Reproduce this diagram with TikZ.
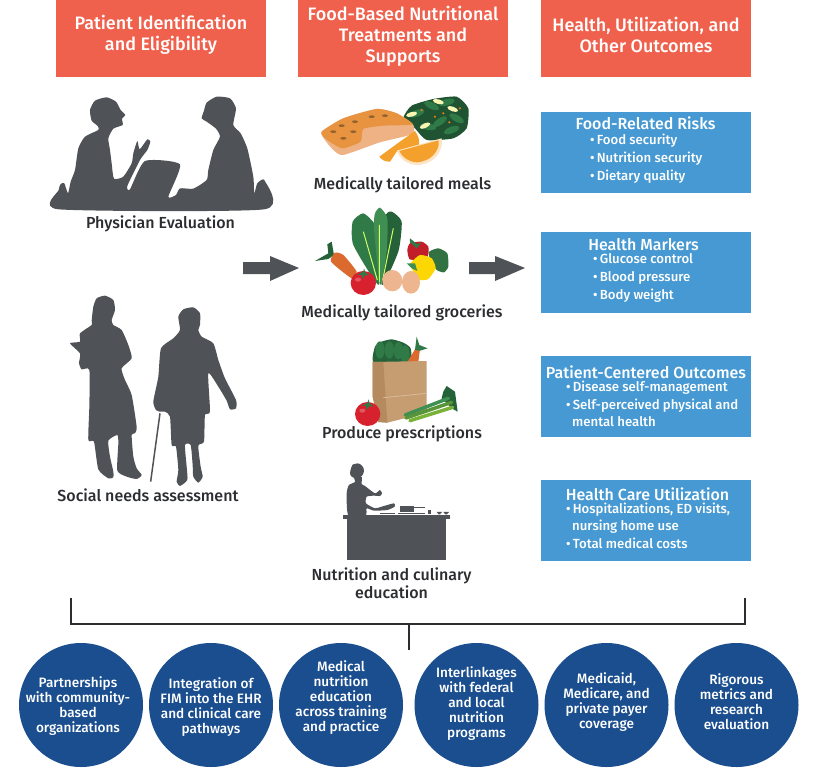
\documentclass[tikz,border=0pt]{standalone}
\usepackage{fontspec}
\setmainfont{Fira Sans}[BoldFont={Fira Sans Medium}]
\definecolor{hdrred}{HTML}{F0614D}
\definecolor{boxblue}{HTML}{4699D2}
\definecolor{discblue}{HTML}{1A4E8F}
\definecolor{silgray}{HTML}{4F5357}
\definecolor{capink}{HTML}{2B2D30}
\definecolor{leafA}{HTML}{2F7A46}
\definecolor{leafB}{HTML}{3F8F52}
\definecolor{leafC}{HTML}{25623A}
\definecolor{tomred}{HTML}{D8212F}
\definecolor{carrot}{HTML}{DB6A2E}
\definecolor{egg}{HTML}{EDB68F}
\definecolor{bag}{HTML}{C69D70}
\definecolor{bagdark}{HTML}{B48A5E}
\definecolor{orangefr}{HTML}{F4A02C}
\tikzset{
  hdr/.style={fill=hdrred,text=white,font=\fontsize{18}{21}\selectfont\bfseries,align=center,inner sep=0pt},
  hdrbox/.style={fill=hdrred,draw=none},
  bluebox/.style={fill=boxblue,draw=none,minimum width=210pt,minimum height=81pt,inner sep=0pt},
  boxtitle/.style={text=white,font=\fontsize{16}{18}\selectfont\bfseries,inner sep=0pt},
  boxlist/.style={text=white,font=\fontsize{13.2}{18}\selectfont\bfseries,align=left,inner sep=0pt,anchor=north west},
  capt/.style={text=capink,font=\fontsize{16}{18}\selectfont\bfseries,align=center,inner sep=0pt},
  disc/.style={circle,fill=discblue,minimum size=124pt,inner sep=0pt},
  disctext/.style={text=white,font=\fontsize{13.6}{15}\selectfont\bfseries,align=center,inner sep=0pt},
  sil/.style={fill=silgray},
  brk/.style={draw=capink,line width=2pt,line cap=butt,line join=miter},
  zoomed/.style={shift={#1},scale=0.3333},
}
\newcommand{\blob}[2]{\fill[#1] plot[smooth cycle,tension=.35] coordinates {#2};}
\newcommand{\tomato}[2]{%
  \fill[tomred] (#1,#2) ellipse [x radius=38,y radius=36];
  \fill[white,opacity=.25] (#1-16,#2-10) ellipse [x radius=9,y radius=6];
  \fill[leafA] (#1,#2-34) -- (#1-18,#2-24) -- (#1-5,#2-24) -- (#1-2,#2-12) -- (#1+5,#2-24) -- (#1+18,#2-22) -- (#1+6,#2-32) -- (#1+2,#2-44) -- cycle;}
\begin{document}
\begin{tikzpicture}[x=1pt,y=-1pt]
\useasboundingbox (0,0) rectangle (825,768);
\fill[white] (0,0) rectangle (825,768);

% headers
\fill[hdrred] (56,0) rectangle (266,77);
\fill[hdrred] (298,0) rectangle (508,77);
\fill[hdrred] (541,0) rectangle (751,77);
\node[hdr] (h1) at (161,35) {Patient Identification\\and Eligibility};
\node[hdr] (h2) at (403,36) {Food-Based Nutritional\\Treatments and\\Supports};
\node[hdr] (h3) at (646,35) {Health, Utilization, and\\Other Outcomes};

% physician evaluation
\begin{scope}[zoomed={(30,80)}]
\blob{sil}{(86,388) (86,330) (92,312) (103,310) (114,340) (122,305) (135,270) (145,205) (165,170) (205,150) (203,138) (185,122) (180,90) (195,62) (230,52) (258,65) (272,90) (286,105) (276,116) (278,135) (250,146) (235,175) (240,210) (245,250) (252,296) (280,290) (305,250) (310,220) (322,183) (329,208) (352,178) (361,185) (352,210) (330,240) (292,318) (300,328) (345,243) (450,253) (415,350) (438,345) (450,325) (490,326) (530,300) (535,270) (550,210) (570,170) (558,146) (530,125) (515,115) (522,92) (530,68) (560,50) (600,55) (618,85) (610,135) (632,160) (652,205) (670,290) (673,340) (682,310) (703,300) (703,388)}
\end{scope}
\node[capt] (c1) at (160.5,224) {Physician Evaluation};

% social needs
\begin{scope}[zoomed={(30,280)}]
\blob{sil}{(185,122) (190,80) (200,55) (225,47) (250,60) (255,90) (245,120) (250,135) (275,150) (295,195) (305,235) (275,265) (285,300) (305,345) (320,440) (315,460) (305,465) (310,530) (320,565) (335,585) (320,597) (290,590) (262,572) (265,490) (262,465) (235,482) (240,530) (250,575) (250,592) (235,595) (205,568) (192,485) (175,480) (178,380) (178,270) (155,268) (147,250) (150,220) (120,190) (150,185) (150,160) (185,135)}
\blob{sil}{(445,110) (460,88) (490,82) (510,100) (510,135) (505,150) (515,170) (550,190) (565,240) (585,295) (618,360) (618,385) (600,388) (590,362) (565,320) (535,280) (540,395) (525,405) (522,485) (505,497) (512,560) (518,590) (505,608) (490,590) (488,555) (482,495) (465,495) (470,560) (472,600) (450,618) (440,605) (445,570) (438,500) (425,495) (420,410) (405,395) (390,395) (378,390) (370,365) (385,290) (393,205) (430,175) (450,150)}
\draw[silgray,line width=1.5pt] (390,400) -- (362,605);
\end{scope}
\node[capt] (c2) at (148,495) {Social needs assessment};

% arrows
\fill[silgray] (243,262) -- (270,262) -- (270,256) -- (299,268) -- (270,281) -- (270,274) -- (243,274) -- cycle;
\fill[silgray] (469,262) -- (495,262) -- (495,256) -- (525,268) -- (495,281) -- (495,274) -- (469,274) -- cycle;

% meals + groceries artwork
\begin{scope}[zoomed={(300,85)}]
% spinach
\blob{leafC!85!black}{(310,100) (335,62) (400,42) (470,35) (505,70) (500,130) (460,160) (380,165) (345,130)}
\foreach \a/\b/\r in {350/85/20,395/62/-25,440/52/15,470/100/-30,420/110/35,385/125/-10,455/135/20}{
  \fill[leafA,rotate around={\r:(\a,\b)}] (\a,\b) ellipse [x radius=24,y radius=10];}
\foreach \a/\b/\r in {335/88/15,415/50/-15,375/122/25,458/72/-20}{
  \fill[black!10!yellow!30!white,rotate around={\r:(\a,\b)}] (\a,\b) ellipse [x radius=17,y radius=7];}
\foreach \a/\b in {365/75,430/85,448/112,405/95,480/70}{\fill[orange!70!brown] (\a,\b) circle (3.5);}
% salmon
\blob{egg!92!orange}{(65,140) (130,100) (230,72) (290,85) (340,120) (335,148) (240,172) (130,210) (100,195) (75,165)}
\blob{orange!55!brown!85!white}{(65,140) (130,100) (230,72) (290,85) (338,118) (250,122) (190,132) (182,170) (130,190) (105,180) (75,160)}
\foreach \a/\b in {100/140,125/122,165/110,215/95,255/92,130/160,160/140}{\fill[brown!60!black,opacity=.7] (\a,\b) ellipse [x radius=9,y radius=4];}
% orange wedges
\fill[orangefr] (238,215) -- (300,170) -- (345,138) .. controls (357,155) and (360,170) .. (356,182) -- (290,200) -- (270,230) .. controls (255,230) and (245,225) .. cycle;
\fill[white!30!orangefr!40!white] (290,197) -- (425,160) .. controls (432,205) and (395,240) .. (350,240) .. controls (320,238) and (300,222) .. cycle;
\fill[orangefr] (298,198) -- (416,166) .. controls (420,200) and (390,230) .. (350,232) .. controls (325,230) and (308,218) .. cycle;
% lettuce
\blob{leafA}{(235,600) (160,480) (158,410) (190,385) (225,420) (232,500)}
\blob{leafC}{(245,600) (255,400) (275,380) (305,410) (295,500)}
\blob{leafB}{(240,600) (222,430) (225,385) (240,368) (262,400) (260,500)}
\draw[green!30!yellow!60!white,line width=1pt] (238,590) -- (238,420) (232,585) -- (190,440) (248,585) -- (280,430);
% carrot
\fill[leafC] (45,528) -- (85,505) -- (82,478) -- (95,470) -- (102,510) -- (85,522) -- cycle;
\blob{carrot}{(93,530) (105,503) (130,510) (170,560) (155,580)}
% peppers
\blob{leafB!80!black}{(388,500) (415,490) (442,505) (445,545) (432,562) (410,555) (390,525)}
\blob{tomred!90!black}{(322,495) (330,475) (365,470) (385,485) (383,515) (350,525) (328,522)}
\fill[leafA] (330,460) -- (352,478) -- (365,472) -- (350,490) -- (330,472) -- cycle;
\blob{yellow!75!orange}{(332,535) (360,510) (395,520) (407,550) (385,582) (360,585) (340,560)}
\fill[leafB] (320,535) -- (345,535) -- (352,558) -- (335,550) -- cycle;
% tomato, eggs
\tomato{190}{594}
\fill[egg] (277,587) ellipse [x radius=30,y radius=32];
\fill[egg] (333,592) ellipse [x radius=27,y radius=34];
\end{scope}
\node[capt] (c3) at (402.5,185) {Medically tailored meals};
\node[capt] (c4) at (402,313) {Medically tailored groceries};

% produce prescriptions
\begin{scope}[zoomed={(300,330)}]
\blob{leafC}{(222,98) (225,50) (245,35) (275,28) (310,38) (332,55) (328,98)}
\foreach \a/\b in {240/60,268/60,295/62,315/72}{\fill[leafA] (\a,\b) ellipse [x radius=14,y radius=26];}
\fill[carrot] (322,96) -- (345,58) -- (360,58) -- (355,95) -- cycle;
\fill[leafA] (345,60) -- (350,20) -- (358,45) -- (383,55) -- (360,62) -- cycle;
\fill[bag] (218,96) -- (380,93) -- (380,248) -- (262,278) -- (235,276) -- (218,200) -- cycle;
\fill[bagdark] (218,96) -- (250,96) -- (262,278) -- (235,276) -- (218,200) -- cycle;
\draw[bag!70!white,line width=.8pt] (250,203) -- (380,190);
\tomato{203}{252}
\fill[leafC] (430,185) -- (440,168) -- (465,185) -- (473,245) -- (455,235) -- (425,205) -- cycle;
\draw[leafB,line width=3.5pt,line cap=round] (316,255) -- (445,205);
\draw[leafA!80!yellow,line width=3.5pt,line cap=round] (318,264) -- (455,217);
\draw[leafB!70!yellow,line width=3.5pt,line cap=round] (330,272) -- (458,232);
\end{scope}
\node[capt] (c5) at (402,434) {Produce prescriptions};

% chef
\begin{scope}[zoomed={(300,330)}]
\fill[sil] (140,560) rectangle (439,690);
\fill[sil] (128,555) rectangle (450,566);
\fill[sil] (172,422) ellipse [x radius=20,y radius=21];
\blob{sil}{(150,430) (158,404) (180,402) (186,425) (170,445) (155,440)}
\blob{sil}{(162,440) (185,440) (185,462) (195,468) (225,490) (240,480) (246,490) (240,498) (222,497) (200,500) (198,520) (225,535) (245,530) (282,520) (284,530) (262,540) (222,542) (200,535) (197,556) (145,556) (140,490) (147,465) (165,456)}
\fill[sil] (300,529) rectangle (343,546);
\draw[silgray,line width=.9pt] (343,532) -- (376,532);
\fill[sil] (295,548) rectangle (376,552);
\fill[sil] (240,548) rectangle (285,552);
\fill[sil] (384,540) rectangle (392,552);
\fill[sil] (410,546) -- (426,546) -- (420,553) -- (416,553) -- cycle;
\fill[sil] (430,546) -- (447,546) -- (441,553) -- (436,553) -- cycle;
\end{scope}
\node[capt] (c6) at (391.5,583) {Nutrition and culinary\\education};

% outcome boxes
\node[bluebox] (b1) at (646,152.5) {};
\node[bluebox] (b2) at (646,272.5) {};
\node[bluebox] (b3) at (646,396.5) {};
\node[bluebox] (b4) at (646,520) {};
\node[boxtitle] at (645.5,123) {Food-Related Risks};
\node[boxlist] at (590,134) {•\,Food security\\•\,Nutrition security\\•\,Dietary quality};
\node[boxtitle] at (643.5,245) {Health Markers};
\node[boxlist] at (593,253) {•\,Glucose control\\•\,Blood pressure\\•\,Body weight};
\node[boxtitle] at (646,372) {Patient-Centered Outcomes};
\node[boxlist,font=\fontsize{13.2}{17}\selectfont\bfseries] at (566,381) {•\,Disease self-management\\[1pt]•\,Self-perceived physical and\\\hspace*{6pt}mental health};
\node[boxtitle] at (647.5,494) {Health Care Utilization};
\node[boxlist,font=\fontsize{13.2}{16.5}\selectfont\bfseries] at (566,503) {•\,Hospitalizations, ED visits,\\\hspace*{6pt}nursing home use\\[1.5pt]•\,Total medical costs};

% circles
\node[disc] (d1) at (81,705) {};
\node[disc] (d2) at (211,705) {};
\node[disc] (d3) at (341,705) {};
\node[disc] (d4) at (476.5,705) {};
\node[disc] (d5) at (606.5,705) {};
\node[disc] (d6) at (736.5,705) {};
\node[disctext] at ([xshift=-3pt,yshift=-1.5pt]d1.center) {Partnerships\\with community-\\based\\organizations};
\node[disctext] at ([yshift=-2pt]d2.center) {Integration of\\FIM into the EHR\\and clinical care\\pathways};
\node[disctext] at ([yshift=7pt]d3.center) {Medical\\nutrition\\education\\across training\\and practice};
\node[disctext] at ([yshift=1pt]d4.center) {Interlinkages\\with federal\\and local\\nutrition\\programs};
\node[disctext] at ([yshift=3pt]d5.center) {Medicaid,\\Medicare, and\\private payer\\coverage};
\node[disctext] at ([yshift=3pt]d6.center) {Rigorous\\metrics and\\research\\evaluation};

% bracket
\coordinate (bl) at (71,598);
\coordinate (blc) at (71,624);
\coordinate (brc) at (745,624);
\coordinate (br) at (745,598);
\coordinate (bm) at (409,624);
\coordinate (bs) at (409,650);
\draw[brk] (bl) -- (blc) -- (brc) -- (br);
\draw[brk] (bm) -- (bs);
\end{tikzpicture}
\end{document}
